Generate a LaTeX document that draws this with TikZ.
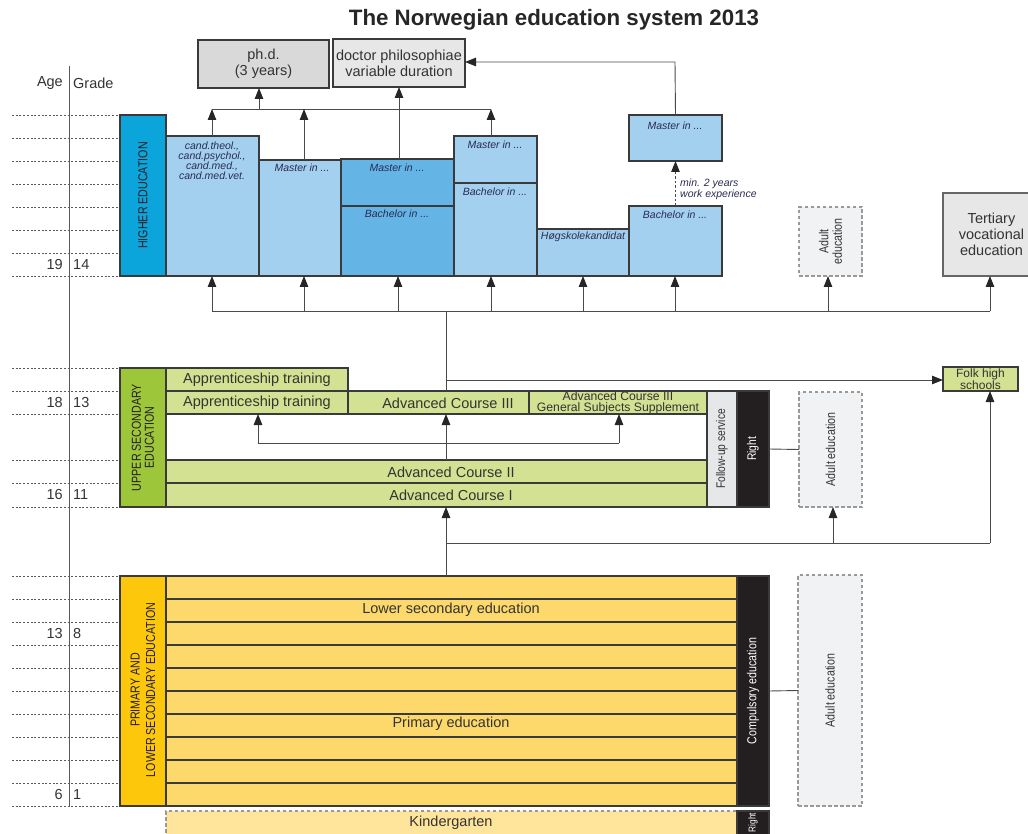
\documentclass[tikz,border=0pt]{standalone}
\usepackage{fontspec}
\setmainfont{Liberation Sans}
\newfontfamily\narrowsans[FakeStretch=0.82]{Liberation Sans}
\usetikzlibrary{arrows.meta}

\definecolor{linec}{HTML}{3A3A3A}
\definecolor{conn}{HTML}{4A4A4A}
\definecolor{txt}{HTML}{333333}
\definecolor{hebar}{HTML}{0BA5DC}
\definecolor{lblue}{HTML}{A3D0EE}
\definecolor{dblue}{HTML}{64B5E6}
\definecolor{gbar}{HTML}{9DC63A}
\definecolor{lgreen}{HTML}{D2E192}
\definecolor{ybar}{HTML}{FDC80C}
\definecolor{lyellow}{HTML}{FDD96C}
\definecolor{kgfill}{HTML}{FEE59B}
\definecolor{phdfill}{HTML}{D9D9DA}
\definecolor{drfill}{HTML}{E7E7E8}
\definecolor{adfill}{HTML}{F1F2F4}
\definecolor{blackbar}{HTML}{231F20}
\definecolor{fufill}{HTML}{E6E7E8}
\definecolor{tipc}{HTML}{262626}

% cell{name}{x1}{y1}{x2}{y2}{style}{text}
\newcommand\cell[7]{\node[#6, minimum width={(#4-#2)*1pt}, minimum height={(#5-#3)*1pt}] (#1) at ({(#2+#4)/2},{(#3+#5)/2}) {#7};}

\begin{document}
\begin{tikzpicture}[x=1pt,y=-1pt,
  cellbox/.style={draw=linec, line width=1.1pt, inner sep=0pt, outer sep=0pt, text=txt, align=center, font=\fontsize{14.5}{16}\selectfont},
  dashbox/.style={cellbox, draw=gray!80, fill=adfill, dash pattern=on 3.5pt off 2.5pt, line width=1.3pt},
  lab/.style={inner sep=0pt, text=txt, align=center, font=\fontsize{14.5}{16}\selectfont},
  ilab/.style={inner sep=0pt, text=txt!85!blue, align=center, font=\fontsize{10.5}{11}\selectfont\itshape},
  rlab/.style={inner sep=0pt, rotate=90, align=center, font=\narrowsans\fontsize{13}{13.5}\selectfont},
  arrtip/.style={-{Triangle[length=11pt,width=8.5pt,color=tipc,fill=tipc]}},
  arr/.style={draw=conn, line width=0.9pt, arrtip},
  conline/.style={draw=conn, line width=0.9pt},
  grid/.style={draw=gray!70!black, line width=0.8pt, dash pattern=on 2pt off 1.7pt},
  num/.style={inner sep=0pt, text=txt, font=\fontsize{14.5}{16}\selectfont},
]
\useasboundingbox (0,0) rectangle (1028,834);
\clip (0,0) rectangle (1028,834);

% title
\node[inner sep=0pt, text=black!85, font=\bfseries\fontsize{22.3}{25}\selectfont] (title) at (554,20) {The Norwegian education system 2013};

% age / grade scale
\node[num, anchor=east] (agehead) at (63,83) {Age};
\node[num, anchor=west] (gradehead) at (73,83) {Grade};
\coordinate (axtop) at (69,66);
\coordinate (axbot) at (69,806);
\draw[draw=gray!70!black, line width=1pt] (axtop) -- (axbot);
\foreach \yy in {115,138,161,184,207,230,253,276,368,391,414,460,483,507,576,599,622,645,668,691,714,737,760,783,806}
  \draw[grid] (12,\yy) -- (120,\yy);
\foreach \yy/\aa/\gg in {265/19/14, 403/18/13, 495/16/11, 634/13/8, 795/6/1}{
  \node[num, anchor=east] (age\aa) at (63,\yy) {\aa};
  \node[num, anchor=west] (grade\gg) at (73,\yy) {\gg};
}

% ---------- higher education ----------
\cell{hebar}{120}{115}{166}{276}{cellbox, fill=hebar}{}
\node[rlab, text=blackbar] (hetext) at (hebar.center) {HIGHER EDUCATION};

\cell{cand}{166}{136}{259}{276}{cellbox, fill=lblue}{}
\node[ilab, anchor=north, font=\fontsize{10.5}{10.2}\selectfont\itshape] (candtext) at (212,141.5) {cand.theol.,\\cand.psychol.,\\cand.med.,\\cand.med.vet.};
\cell{mtwo}{259}{160}{341}{276}{cellbox, fill=lblue}{}
\node[ilab] (mtwotext) at (302,168) {Master in ...};
\cell{mdark}{341}{159}{454}{206}{cellbox, fill=dblue}{}
\node[ilab] (mdarktext) at (397,168) {Master in ...};
\cell{bdark}{341}{206}{454}{276}{cellbox, fill=dblue}{}
\node[ilab] (bdarktext) at (397,214) {Bachelor in ...};
\cell{darkframe}{341}{159}{454}{276}{draw=linec, line width=2.6pt, inner sep=0pt}{}
\cell{mfour}{454}{136}{537}{183}{cellbox, fill=lblue}{}
\node[ilab] (mfourtext) at (495,145) {Master in ...};
\cell{bfour}{454}{183}{537}{276}{cellbox, fill=lblue}{}
\node[ilab] (bfourtext) at (495,192) {Bachelor in ...};
\cell{hksk}{537}{229}{629}{276}{cellbox, fill=lblue}{}
\node[ilab] (hksktext) at (583,237) {Høgskolekandidat};
\cell{bsix}{629}{206}{722}{276}{cellbox, fill=lblue}{}
\node[ilab] (bsixtext) at (675,215) {Bachelor in ...};
\cell{msix}{629}{115}{722}{161}{cellbox, fill=lblue}{}
\node[ilab] (msixtext) at (675,126) {Master in ...};

\cell{phd}{198}{40}{329}{88}{cellbox, fill=phdfill, line width=2.6pt}{ph.d.\\(3 years)}
\cell{drphil}{333}{39}{465}{87}{cellbox, fill=drfill}{doctor philosophiae\\variable duration}

\cell{adultone}{799}{207}{862}{276}{dashbox}{}
\node[rlab, text=txt] (adultonetext) at (adultone.center) {Adult\\education};
\cell{tert}{943}{193}{1040}{276}{cellbox, fill=drfill, draw=gray!80!black}{Tertiary\\vocational\\education}

% connectors at the top
\coordinate (hbl) at (212,109);
\coordinate (hbm) at (304,109);
\coordinate (hbp) at (259,109);
\coordinate (hbr) at (491,109);
\draw[conline] (hbl) -- (hbr);
\draw[arr] (cand.north -| hbl) -- (hbl);
\draw[arr] (mtwo.north -| hbm) -- (hbm);
\draw[arr] (mfour.north -| hbr) -- (hbr);
\draw[arr] (hbp) -- (hbp |- phd.south);
\draw[arr] (mdark.north -| drphil.south) -- (drphil.south);
\coordinate (msixup) at (675,62);
\draw[arr] (msix.north) -- (msixup) -- (drphil.east |- msixup);
\draw[draw=conn, line width=0.9pt, dash pattern=on 2.5pt off 2pt, arrtip] (bsix.north) -- (msix.south);
\node[ilab, anchor=west, align=left, font=\fontsize{10.5}{11}\selectfont\itshape] (worktext) at (680,189.5) {min. 2 years\\work experience};

% bus into higher education
\coordinate (busl) at (212,311);
\coordinate (busr) at (990,311);
\coordinate (busfeed) at (446,311);
\draw[conline] (busl) -- (busr);
\foreach \xx/\tg in {212/cand, 304/mtwo, 398/bdark, 491/bfour, 583/hksk, 675/bsix, 828/adultone, 990/tert}
  \draw[arr] (\xx,311) -- (\xx,276);

% ---------- upper secondary ----------
\cell{usbar}{120}{368}{166}{507}{cellbox, fill=gbar}{}
\node[rlab, text=blackbar, font=\narrowsans\fontsize{13}{13}\selectfont] (ustext) at (usbar.center) {UPPER SECONDARY\\EDUCATION};
\cell{appone}{166}{368}{348}{391}{cellbox, fill=lgreen}{Apprenticeship training}
\cell{apptwo}{166}{391}{348}{414}{cellbox, fill=lgreen}{Apprenticeship training}
\cell{advthree}{348}{391}{529}{414}{cellbox, fill=lgreen}{}
\node[lab] (advthreetext) at (448,403) {Advanced Course III};
\cell{advgss}{529}{391}{707}{414}{cellbox, fill=lgreen, font=\fontsize{12.2}{11}\selectfont}{Advanced Course III\\General Subjects Supplement}
\cell{advtwo}{166}{460}{707}{483}{cellbox, fill=lgreen}{}
\node[lab] (advtwotext) at (451,472) {Advanced Course II};
\cell{advone}{166}{483}{707}{507}{cellbox, fill=lgreen}{}
\node[lab] (advonetext) at (451,495) {Advanced Course I};
\cell{followup}{707}{391}{737}{507}{cellbox, fill=fufill}{}
\node[rlab, text=txt, font=\narrowsans\fontsize{12.5}{13}\selectfont] (followuptext) at (followup.center) {Follow-up service};
\cell{rightus}{737}{391}{769}{507}{cellbox, fill=blackbar}{}
\node[rlab, text=white, font=\narrowsans\fontsize{12.5}{13}\selectfont] (rightustext) at (rightus.center) {Right};
\cell{adulttwo}{799}{392}{862}{507}{dashbox}{}
\node[rlab, text=txt] (adulttwotext) at (adulttwo.center) {Adult education};
\cell{folk}{943}{367}{1018}{391}{cellbox, fill=lgreen, font=\fontsize{12}{10.5}\selectfont}{Folk high\\schools}

\draw[conline] (rightus.east) -- (adulttwo.west);
\coordinate (usfork) at (446,380);
\draw[conline] (advthree.north -| busfeed) -- (busfeed);
\draw[arr] (usfork) -- (folk.west |- usfork);

% choices inside upper secondary
\coordinate (ibl) at (258,443);
\coordinate (ibr) at (619,443);
\draw[conline] (ibl) -- (ibr);
\draw[arr] (ibl) -- (ibl |- apptwo.south);
\draw[arr] (ibr) -- (ibr |- advgss.south);
\draw[arr] (advtwo.north -| busfeed) -- (busfeed |- advthree.south);

% ---------- primary and lower secondary ----------
\cell{pbar}{120}{576}{166}{806}{cellbox, fill=ybar}{}
\node[rlab, text=blackbar, font=\narrowsans\fontsize{13}{15.5}\selectfont] (ptext) at (143,690) {PRIMARY AND\\LOWER SECONDARY EDUCATION};
\foreach \i in {0,...,9}{
  \pgfmathtruncatemacro{\ya}{576+23*\i}
  \pgfmathtruncatemacro{\yb}{599+23*\i}
  \cell{prow\i}{166}{\ya}{737}{\yb}{cellbox, fill=lyellow}{}
}
\node[lab] (lstext) at (451,610) {Lower secondary education};
\node[lab] (pstext) at (451,724) {Primary education};
\cell{comp}{737}{576}{769}{806}{cellbox, fill=blackbar}{}
\node[rlab, text=white] (comptext) at (comp.center) {Compulsory education};
\cell{adultthree}{798}{575}{862}{806}{dashbox}{}
\node[rlab, text=txt] (adultthreetext) at (adultthree.center) {Adult education};
\draw[conline] (comp.east) -- (adultthree.west);

% from compulsory school upwards
\coordinate (lowfork) at (446,543);
\coordinate (lowright) at (990,543);
\coordinate (lowadult) at (833,543);
\draw[arr] (prow0.north -| lowfork) -- (lowfork |- advone.south);
\draw[conline] (lowfork) -- (lowright);
\draw[arr] (lowright) -- (folk.south -| lowright);
\draw[arr] (lowadult) -- (lowadult |- adulttwo.south);

% ---------- kindergarten ----------
\cell{kg}{166}{811}{737}{845}{dashbox, fill=kgfill}{}
\node[lab] (kgtext) at (451,823) {Kindergarten};
\cell{rightkg}{737}{811}{769}{845}{cellbox, fill=blackbar}{}
\node[rlab, text=white, font=\narrowsans\fontsize{10}{11}\selectfont] (rightkgtext) at (753,822.5) {Right};
\end{tikzpicture}
\end{document}
